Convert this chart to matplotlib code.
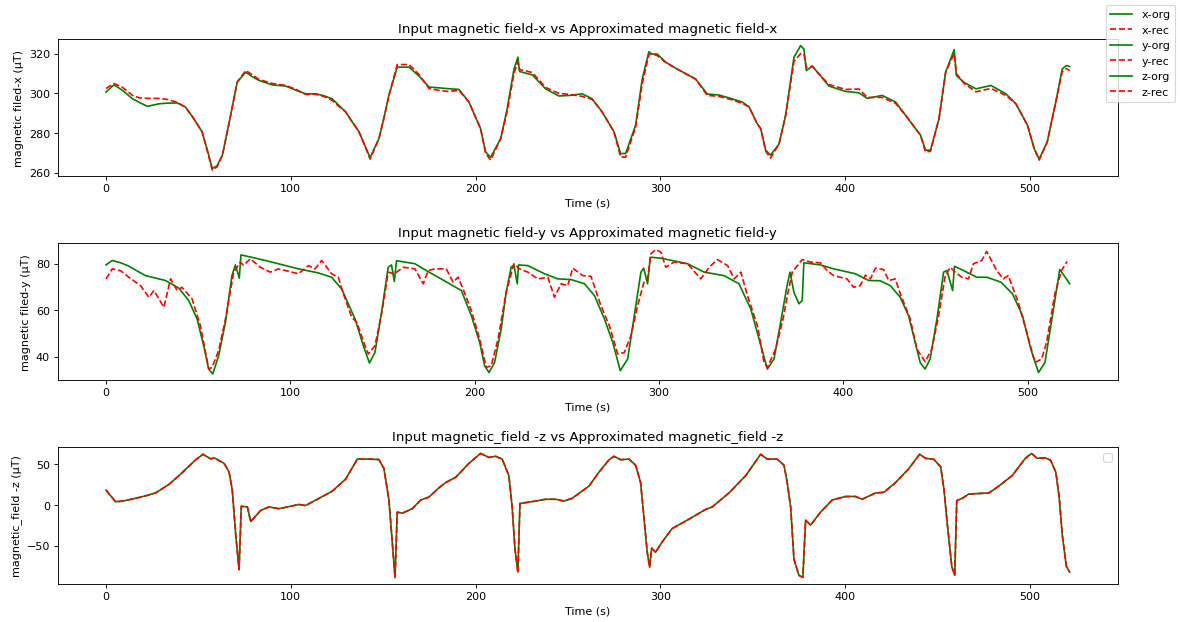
import matplotlib
matplotlib.use('Agg')
import matplotlib.pyplot as plt

# time stamps (s) and readings

t_x = [0, 4.3, 9, 14.3, 18, 22.4, 28.7, 33, 38.6, 43, 47, 52, 55, 57.5, 60, 63, 67, 71, 75.6, 79,
       82.8, 90, 97.2, 103, 108, 113.7, 118, 122.4, 126, 129.7, 133, 136.9, 140, 142.9, 147.7,
       150.5, 153.1, 157.6, 164, 169.4, 174.8, 180.2, 185, 191, 196.4, 202.7, 205.4, 208.1,
       213.6, 217.1, 220.8, 222.9, 223.8, 230.7, 237.9, 245.1, 251, 257.7, 263.1, 268.5, 274.9,
       278.5, 281.2, 286.6, 290.2, 293.8, 295.3, 298.3, 302.9, 309, 315.5, 319.1, 325.4, 331.7,
       338, 344.3, 348, 352.4, 354.3, 357, 359.6, 364.2, 367.8, 372.3, 375.9, 377.7, 379, 382.2,
       385.8, 391.2, 400.2, 407.5, 412, 420, 427.3, 432.7, 438.1, 440.8, 443.5, 446.2, 450.8,
       454.4, 459, 460.2, 464.4, 470.8, 478.9, 487, 492.4, 498.7, 502.3, 505, 509.4, 514, 517.5,
       519.7, 521.5]
x_org = [300.7, 304.3, 301.5, 297.3, 295.5, 293.5, 294.8, 295.1, 295.2, 293.2, 288, 280.7, 271,
         262.3, 263.5, 269, 287, 305.7, 310.7, 308.5, 306.5, 304.3, 303.7, 301.5, 299.8, 299.8,
         298.8, 297.3, 294, 290.7, 286, 280.7, 274, 267.7, 277.3, 288, 299, 313.2, 313.2, 308.7,
         303.2, 302.8, 302.4, 302, 295.7, 282.3, 270.7, 267.8, 277.3, 292.3, 312.3, 318.2, 311,
         309.3, 302.3, 298.7, 299, 299.8, 297.3, 290.7, 280.7, 269.8, 269.8, 284, 307.3, 321,
         319.8, 319.8, 315.7, 312.3, 309, 307.2, 299.7, 299.2, 297.5, 295.7, 293.2, 284.8, 282.3,
         271.5, 269, 274.5, 289, 318.2, 324, 322.3, 311.5, 313.7, 309.8, 303.7, 301, 300.3, 297.5,
         299, 295.7, 289, 282.3, 279, 271.5, 271.5, 287.3, 310.7, 322, 309, 305.5, 302.3, 304,
         299.8, 294.8, 284, 272.3, 267, 275.7, 295.7, 312.3, 314, 313.5]
x_rec = [302.5, 305, 303, 299, 297.8, 297.5, 297.5, 297, 295.5, 293, 288, 280.7, 270.5,
         261.5, 263, 269, 287, 305.7, 311.5, 309.5, 307, 305, 304, 302, 299.5, 299.5,
         298.5, 296.5, 293.5, 290.7, 286, 280.7, 274, 267, 277.3, 288, 299, 314.5, 314.5, 309.5,
         302.5, 301.5, 301, 301.5, 295.7, 282.3, 270, 266.5, 277.3, 291, 310, 316, 312,
         310.5, 303, 300, 299.5, 298.5, 297, 290.7, 280.7, 268, 268, 283, 305, 319.5,
         320, 319, 315.5, 312.3, 309, 307.2, 299, 298.5, 297, 295, 293.2, 284.8, 282.3,
         271, 267.5, 274.5, 289, 316, 320, 319.8, 313, 313.7, 309.8, 304.5, 302, 302.2, 298,
         298, 295, 289, 282.3, 279, 270.5, 271, 287.3, 310.7, 320, 310, 305, 300.8, 302.5,
         299, 294.8, 284, 272.3, 266.5, 275.7, 295.7, 311, 312.5, 311.5]

t_y = [0, 3.4, 8, 12, 21.4, 32.3, 39.5, 44.9, 49.4, 53, 55.7, 57.9, 61.1, 64.8, 68.3, 70.2, 72.3,
       73.2, 80, 90, 104.4, 115, 122.4, 127.8, 135.1, 139.6, 142.9, 145.9, 149.5, 153.1, 154.9,
       156.4, 157.6, 167.6, 174.8, 180.2, 192.8, 198.2, 202.7, 205.4, 207.8, 210.8, 214.4, 217.1,
       219.8, 221.3, 223.1, 223.8, 228.8, 237.9, 245.1, 252.3, 259.6, 265, 270.4, 274.9, 279,
       283, 286.6, 290.2, 291.7, 293.8, 295.3, 301, 315.5, 324.5, 335.3, 343.4, 349.8, 354.3,
       358.8, 362.4, 366, 369.6, 371.1, 373.2, 375.9, 377.7, 378.6, 387.6, 394.8, 406.5, 413.8,
       420, 425.5, 430.9, 435.4, 439, 441.7, 444.4, 447.1, 450.8, 454.4, 456.2, 459.3, 460.3,
       465.2, 472.4, 477.9, 485.5, 491.8, 497.2, 501.7, 505.9, 509.4, 512.9, 517.4, 519.8, 522.8]
y_org = [79.4, 81.3, 80.3, 79, 74.8, 72.7, 69.4, 64.1, 56.2, 44.7, 34.7, 32.6, 40.4, 54.8, 74.8,
         79.4, 73.7, 83.7, 82.5, 80.6, 77.7, 76, 74.1, 69.1, 56.2, 44.7, 37.3, 41.8, 59.1, 78.4,
         79.4, 72.3, 81.2, 79.9, 76.5, 74.1, 68.4, 57.6, 46.2, 36.1, 33.2, 37.5, 51.9, 67.7, 78.4,
         79.4, 71.3, 79.4, 79.1, 75.6, 73.4, 73.1, 71.3, 66.2, 56.2, 46.2, 34, 39, 57.6, 76.3, 78,
         71.3, 82.7, 82.3, 79.9, 76.3, 74.8, 71.3, 60.5, 47.6, 34.7, 39, 54.8, 71, 76.3, 67.7,
         62.7, 64.1, 80.3, 79.4, 77.7, 75.6, 72.7, 72.6, 70.5, 65.5, 57.6, 46.2, 37.5, 34.7, 39,
         56.2, 76.3, 77, 68.4, 78.8, 77, 74.1, 74.1, 72, 67, 57.6, 43.3, 33.2, 37.5, 54.8, 77.4,
         74.8, 71.3]

t_yr = [0, 3.4, 7.9, 12.4, 18.7, 23.3, 26, 31.4, 35, 38.6, 41.2, 46.7, 51.2, 55.7, 57.5, 61.1,
        64.8, 69.3, 72.9, 74.6, 78.3, 83.7, 89.1, 93.6, 104.4, 109.8, 113.4, 117, 122.4, 126,
        128.8, 133.3, 136, 140.5, 142.3, 145.9, 149.5, 153.1, 156.4, 161.3, 167.6, 172.1, 174.8,
        178.4, 184.6, 188.3, 191, 193.7, 198.2, 202.7, 206.3, 209, 212.7, 217.1, 221.3, 224.3,
        228.8, 234.3, 239.7, 243.3, 246.9, 250.5, 253.2, 258.7, 263.1, 268.5, 273.1, 277.6,
        281.2, 284.8, 288.4, 292, 293.8, 295.6, 298.3, 301, 303.7, 308.2, 315.5, 322.7, 327.2,
        331.7, 337.2, 340.8, 344.4, 348, 353.4, 357, 358.8, 363.3, 367.3, 369.6, 372.3, 377.7,
        382.2, 387.6, 391.2, 394.8, 402, 405.6, 409.2, 412, 414.7, 417.4, 421.9, 424.6, 428.2,
        430.9, 436.3, 439.9, 444.4, 448, 451.7, 455.3, 458, 460.7, 464.3, 467.9, 470.6, 475.1,
        477.8, 483.2, 486.8, 489.5, 494.9, 499.5, 504, 507.6, 510.3, 514.8, 518.4, 521.4]
y_rec = [73.4, 77.7, 76.9, 74.1, 70.5, 65.5, 68.4, 61.2, 73.4, 68.4, 69.8, 64.8, 53.3, 34.7, 35.4,
         42.6, 56.2, 76.3, 80.6, 79.2, 82, 78.4, 76.3, 77.7, 75.6, 79.1, 77.7, 81.3, 75.6, 74.1,
         67, 56.9, 54.8, 44.7, 41.2, 44.7, 58.4, 76.3, 75.6, 78.4, 77.7, 71.3, 77, 77.7, 77.7, 72,
         74.1, 69.1, 59.8, 47.6, 35.4, 36.1, 47.6, 67.7, 79.9, 77.7, 76.3, 73.4, 74.1, 65.5, 71.3,
         70.5, 78, 74.8, 74.5, 61.9, 53.3, 41.2, 41.8, 49, 61.9, 72.4, 73.4, 84.2, 86, 84.9, 78.4,
         80.6, 79.9, 73.4, 78.4, 81.7, 79.1, 73.4, 76.3, 66.2, 53.3, 37.5, 35.4, 43.3, 56.2, 66,
         76.3, 81.7, 80.6, 80.3, 77, 74.8, 73.4, 69.8, 70.5, 75, 73.4, 78, 77.4, 72.7, 73.4, 67,
         56.2, 43.3, 37.8, 43.3, 57.6, 74.8, 78.4, 76.3, 74.1, 73.4, 79.9, 81.3, 85.2, 77, 73.4,
         74.8, 63.4, 50.5, 37.5, 39, 46.2, 67, 77, 80.9]

t_z = [0, 5.2, 8.8, 16.1, 21.4, 26.8, 34.1, 39.5, 48.5, 52.5, 56.6, 58.6, 63.9, 66.6, 68.3, 70.2,
       72, 73.2, 76.5, 78.3, 83.7, 88.2, 93.6, 104.4, 108, 115.3, 122.4, 129.7, 136, 143.2, 147.7,
       150.4, 153.1, 154.9, 156.4, 157.6, 160.3, 165.7, 170.3, 174.8, 180.2, 183.8, 189.2, 196.4,
       202.7, 207.3, 210.8, 214.4, 218, 219.8, 221.3, 222.9, 224, 232.5, 237.9, 243.3, 247.8,
       252.3, 261.4, 266.8, 272.2, 274.9, 278.5, 283, 286.6, 289.3, 291.1, 292.9, 294.2, 295.3,
       297.4, 301, 306.4, 315.5, 324.5, 328.1, 337.1, 346.2, 354.3, 357.8, 363.3, 366.9, 368.5,
       370.5, 372.3, 375, 377.1, 378.6, 381.3, 386.7, 393, 400.2, 405.6, 409.2, 416.5, 421, 427.3,
       434.5, 440.3, 443.5, 448, 451.7, 453.5, 455.3, 457.7, 459.3, 460.4, 463.4, 466.9, 477.8,
       483.2, 490.4, 497.6, 500.9, 503.9, 508.4, 511.2, 514, 515.8, 517.5, 519.7, 521.5]
z_org = [18.4, 4.3, 5, 8.5, 11.5, 15, 25.6, 36.3, 55.6, 62.5, 56.8, 58, 51.3, 40.6, 19.2, -36.3,
         -79, -1.3, -2.1, -20.1, -6.4, -2.1, -4.3, 0.9, -0.4, 8.5, 17.1, 32, 56.5, 56.5, 56,
         44.9, 6.4, -44.9, -89, -8.5, -9.8, -4.3, 6.4, 10, 21.4, 27.8, 34.2, 51.3, 63.5, 58.5,
         60, 56.5, 36.3, -2.1, -53.4, -82, 2.1, 5.1, 7.3, 7.3, 5.1, 8.5, 23.5, 40.6, 55.6, 60,
         55.8, 56.5, 49.1, 27.8, -15, -57.7, -76, -52.6, -57.7, -44.9, -28.6, -17.1, -5.1, -2.1,
         15, 36.3, 62.5, 56.5, 56.5, 49, 30, -2, -66.2, -86, -88.5, -18.4, -24.4, -8.5, 6.4, 10.7,
         10.7, 7.3, 15, 15.8, 27.8, 44.9, 62.5, 57.5, 56.3, 47, 19.2, -23.5, -74.8, -86, 5.6, 8.5,
         13.7, 15, 23.5, 36.3, 57.7, 63.5, 57.5, 58, 55, 40.6, 10.7, -36.3, -74.8, -82]
z_rec = [18.4, 4.3, 5, 8.5, 11.5, 15, 25.6, 36.3, 55.6, 62.5, 56.8, 58, 51.3, 40.6, 19.2, -36.3,
         -79, -1.3, -2.1, -20.1, -6.4, -2.1, -4.3, 0.9, -0.4, 8.5, 17.1, 32, 56.5, 56.5, 56,
         44.9, 6.4, -44.9, -89, -8.5, -9.8, -4.3, 6.4, 10, 21.4, 27.8, 34.2, 51.3, 63.5, 58.5,
         60, 56.5, 36.3, -2.1, -53.4, -82, 2.1, 5.1, 7.3, 7.3, 5.1, 8.5, 23.5, 40.6, 55.6, 60,
         55.8, 56.5, 49.1, 27.8, -15, -57.7, -76, -52.6, -57.7, -44.9, -28.6, -17.1, -5.1, -2.1,
         15, 36.3, 62.5, 56.5, 56.5, 49, 30, -2, -66.2, -86, -88.5, -18.4, -24.4, -8.5, 6.4, 10.7,
         10.7, 7.3, 15, 15.8, 27.8, 44.9, 62.5, 57.5, 56.3, 47, 19.2, -23.5, -74.8, -86, 5.6, 8.5,
         13.7, 15, 23.5, 36.3, 57.7, 63.5, 57.5, 58, 55, 40.6, 10.7, -36.3, -74.8, -82]

y_ticks = [40, 60, 80]

# text in the reference is small for its size: a wide figure saved at a low dpi
dpi = 80
fig, axs = plt.subplots(3, 1, figsize=(1180.4 / dpi, 622.4 / dpi), dpi=dpi)
fig.subplots_adjust(left=0.049, right=0.947, top=0.936, bottom=0.061, hspace=0.49)

ax = axs[0]
ax.plot(t_x, x_org, 'g', label='x-org')
ax.plot(t_x, x_rec, 'r--', label='x-rec')
ax.set_title('Input magnetic field-x vs Approximated magnetic field-x')
ax.set_xlabel('Time (s)')
ax.set_ylabel('magnetic filed-x (µT)')

ax = axs[1]
ax.plot(t_y, y_org, 'g', label='y-org')
ax.plot(t_yr, y_rec, 'r--', label='y-rec')
ax.set_yticks(y_ticks)
ax.set_title('Input magnetic field-y vs Approximated magnetic field-y')
ax.set_xlabel('Time (s)')
ax.set_ylabel('magnetic filed-y (µT)')

ax = axs[2]
ax.plot(t_z, z_org, 'g', label='z-org')
ax.plot(t_z, z_rec, 'r--', label='z-rec')
ax.set_title('Input magnetic_field -z vs Approximated magnetic_field -z')
ax.set_xlabel('Time (s)')
ax.set_ylabel('magnetic_field -z (µT)')
ax.legend(handles=[], loc='upper right')

fig.legend(loc='upper right')

plt.savefig('out.png', dpi=dpi)
